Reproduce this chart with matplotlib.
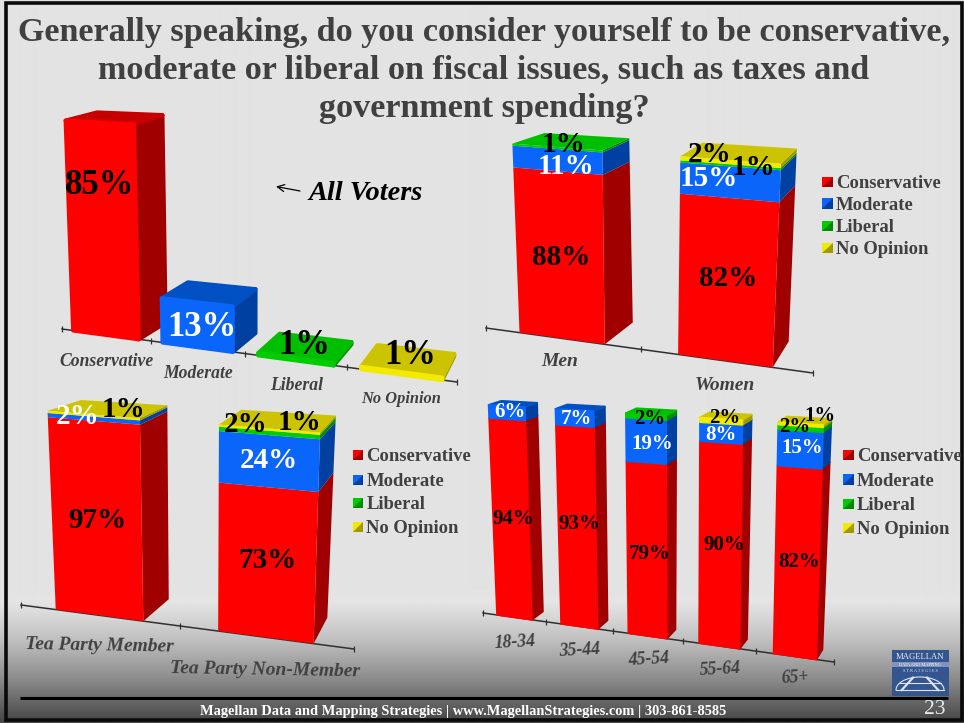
import numpy as np
import matplotlib
matplotlib.use("Agg")
import matplotlib.pyplot as plt
from matplotlib.patches import Polygon, Rectangle
from matplotlib.transforms import Transform, IdentityTransform

W, H = 964, 723
SERIF = "Liberation Serif"
GREY = "#404040"

# ---------- data ----------
SERIES = ["Conservative", "Moderate", "Liberal", "No Opinion"]

ALL_CATS = ["Conservative", "Moderate", "Liberal", "No Opinion"]
ALL_VALUES = [85, 13, 1, 1]

SEX_CATS = ["Men", "Women"]
SEX_CONS = [88, 82]
SEX_MOD = [11, 15]
SEX_LIB = [1, 1]
SEX_NO = [0, 2]

TEA_CATS = ["Tea Party Member", "Tea Party Non-Member"]
TEA_CONS = [97, 73]
TEA_MOD = [2, 24]
TEA_LIB = [0, 2]
TEA_NO = [1, 1]

AGE_CATS = ["18-34", "35-44", "45-54", "55-64", "65+"]
AGE_CONS = [94, 93, 79, 90, 82]
AGE_MOD = [6, 7, 19, 8, 15]
AGE_LIB = [0, 0, 2, 0, 2]
AGE_NO = [0, 0, 0, 2, 1]

TITLE_LINES = ["Generally speaking, do you consider yourself to be conservative,",
               "moderate or liberal on fiscal issues, such as taxes and",
               "government spending?"]
FOOTER = "Magellan Data and Mapping Strategies | www.MagellanStrategies.com | 303-861-8585"

# ---------- styles ----------
FRONT = ["#FF0000", "#0A66FA", "#00CC00", "#F2EA00"]
SIDE = ["#A00000", "#0040A0", "#008C00", "#A09A00"]
TOP = ["#C60000", "#0050C4", "#00BE00", "#CCC400"]
TEXTC = ["black", "white", "black", "black"]


class Homography(Transform):
    input_dims = output_dims = 2
    is_separable = False
    has_inverse = False
    is_affine = False

    def __init__(self, src, dst):
        super().__init__()
        A, b = [], []
        for (x, y), (u, v) in zip(src, dst):
            A.append([x, y, 1, 0, 0, 0, -u * x, -u * y]); b.append(u)
            A.append([0, 0, 0, x, y, 1, -v * x, -v * y]); b.append(v)
        self.M = np.append(np.linalg.solve(np.array(A, float), np.array(b, float)), 1).reshape(3, 3)

    def transform_non_affine(self, values):
        v = np.asarray(values, float)
        p = np.c_[v, np.ones(len(v))] @ self.M.T
        return p[:, :2] / p[:, 2:3]


fig = plt.figure(figsize=(W / 100, H / 100), dpi=100, facecolor="white")

# ---------- slide background ----------
bg = fig.add_axes([0, 0, 1, 1], zorder=0)
bg.set_xlim(0, W); bg.set_ylim(H, 0); bg.set_axis_off()
rows = np.arange(H)
grey = np.interp(rows, [0, 590, 602, 640, 680, 700, 720], [227, 227, 229, 192, 138, 105, 72])
bg.imshow(grey[:, None], cmap="gray", vmin=0, vmax=255, extent=(0, W, H, 0), aspect="auto",
          interpolation="bilinear")
bg.set_xlim(0, W); bg.set_ylim(H, 0)
bg.add_patch(Rectangle((5.5, 3), 956, 717, fill=False, ec="#0a0a0a", lw=2.6))
bg.plot([20, 948], [698, 698], color="black", lw=2.2, solid_capstyle="butt")

for line, y in zip(TITLE_LINES, [33, 70, 109]):
    bg.text(484, y, line, ha="center", va="center", family=SERIF, weight="bold",
            fontsize=24.6, color=GREY)
bg.text(463.5, 711, FOOTER, ha="center", va="center", family=SERIF, weight="bold",
        fontsize=10.4, color="white")
bg.text(935, 709, "23", ha="center", va="center", family=SERIF, fontsize=15.5, color="#e8e8e8")

# logo
bg.add_patch(Rectangle((892, 650), 57, 46, fc="#34558F", ec="none"))
bg.add_patch(Rectangle((892, 662), 57, 5, fc="#7F93BC", ec="none"))
bg.text(920, 657, "MAGELLAN", ha="center", va="center", family=SERIF, fontsize=6.2, color="#e8ecf4")
bg.text(920, 664.5, "DATA AND MAPPING", ha="center", va="center", family=SERIF, fontsize=3.2, color="white")
bg.text(920, 670.5, "S T R A T E G I E S", ha="center", va="center", family=SERIF, fontsize=3.2, color="#dfe5f0")
t = np.linspace(0, np.pi, 30)
bg.plot(920 + 24 * np.cos(t), 690 - 13 * np.sin(t), color="#dfe5f0", lw=0.8)
bg.plot([896, 944], [690, 690], color="#dfe5f0", lw=0.8)
for dx, top in [(-7, 0.95), (7, 0.95)]:
    bg.plot([920 + dx, 920 + dx * 2.6], [690 - 13 * top, 690], color="#dfe5f0", lw=1.6)
bg.plot([899, 941], [683, 683], color="#dfe5f0", lw=0.8)


def px(p):
    return [(x, H - y) for x, y in p]


def make_panel(n, vmax, front_quad, depth, scale=None, lw=0.0, width=0.55):
    """front_quad: BL, BR, TR, TL in slide pixels for the value plane;
    depth: the same four corners' offset to the back plane."""
    xs = [q[0] for q in front_quad]
    ys = [q[1] for q in front_quad]
    l, r, t_, b = min(xs), max(xs), min(ys), max(ys)
    ax = fig.add_axes([l / W, 1 - b / H, (r - l) / W, (b - t_) / H], zorder=2)
    ax.set_axis_off()
    if scale is not None:
        ax.set_yscale("function", functions=scale)
    ax.set_xlim(0, n); ax.set_ylim(0, vmax)
    x0, y0, x1, y1 = l, H - b, r, H - t_
    src = [(x0, y0), (x1, y0), (x1, y1), (x0, y1)]
    back_quad = [(q[0] + d[0], q[1] + d[1]) for q, d in zip(front_quad, depth)]
    tf = ax.transData + Homography(src, px(front_quad))
    tb = ax.transData + Homography(src, px(back_quad))
    ident = IdentityTransform()

    def draw(ix, v0, v1, color_i, is_top, z):
        a, c = ix + 0.5 - width / 2, ix + 0.5 + width / 2
        fr = tf.transform([[a, v1], [c, v1], [c, v0]])
        bk = tb.transform([[a, v1], [c, v1], [c, v0]])
        common = dict(closed=True, transform=ident, clip_on=False, joinstyle="round", lw=lw)
        ax.add_patch(Polygon([fr[1], bk[1], bk[2], fr[2]], fc=SIDE[color_i], ec=SIDE[color_i], zorder=z, **common))
        if is_top:
            ax.add_patch(Polygon([fr[0], bk[0], bk[1], fr[1]], fc=TOP[color_i], ec=TOP[color_i], zorder=z, **common))
        ax.bar(ix + 0.5, v1 - v0, width, bottom=v0, color=FRONT[color_i], edgecolor=FRONT[color_i],
               linewidth=lw, joinstyle="round", transform=tf, clip_on=False, zorder=z + 0.5)

    ax.plot([0, n], [0, 0], color="#303030", lw=1.1, transform=tf, clip_on=False, zorder=1)
    ax.plot(np.arange(n + 1), np.zeros(n + 1), ls="none", marker="|", ms=5, mew=0.9,
            color="#303030", transform=tf, clip_on=False, zorder=1)
    ax.set_xlim(0, n); ax.set_ylim(0, vmax)
    return ax, draw


def stacked(n, vmax, quad, depth, stacks, width=0.55, lw=0.0):
    ax, draw = make_panel(n, vmax, quad, depth, width=width, lw=lw)
    for i in range(n):
        vals = [s[i] for s in stacks]
        last = max(k for k, v in enumerate(vals) if v > 0)
        base = 0
        z = 3 + i * 2
        for k, v in enumerate(vals):
            if v > 0:
                draw(i, base, base + v, k, k == last, z)
                base += v
    return ax


# ---------- panel 1: all voters ----------
knots_v = [0, 1, 13, 85]
knots_s = [0, 0.9, 18, 85]
ax1, draw1 = make_panel(
    4, 85,
    [(62, 329), (457, 382), (468, 142), (54, 120)],
    [(30, -15), (11, -24), (10, -14), (32, -8)],
    scale=(lambda v: np.interp(v, knots_v, knots_s), lambda s: np.interp(s, knots_s, knots_v)),
    lw=3.0, width=0.74)
for i, v in enumerate(ALL_VALUES):
    draw1(i, 0, v, i, True, 3 + i * 2)

# ---------- panels 2-4 ----------
stacked(2, 100, [(486, 328), (813, 373), (824, 167), (477, 141)],
        [(36, -19), (13, -27), (13, -16), (34, -10)],
        [SEX_CONS, SEX_MOD, SEX_LIB, SEX_NO])
stacked(2, 100, [(21, 605), (354, 649), (363, 436), (11, 408)],
        [(34, -19), (11, -27), (13, -18), (36, -10)],
        [TEA_CONS, TEA_MOD, TEA_LIB, TEA_NO])
stacked(5, 100, [(483, 613), (834, 662), (842, 426), (474, 404)],
        [(12, -8), (6, -10), (8, -6), (13, -4)],
        [AGE_CONS, AGE_MOD, AGE_LIB, AGE_NO], lw=1.2)

# ---------- data labels (on top of every bar) ----------
lab = fig.add_axes([0, 0, 1, 1], zorder=5)
lab.set_xlim(0, W); lab.set_ylim(H, 0); lab.set_axis_off()


def value_labels(stacks, layouts, size, nudge):
    for i, where in enumerate(layouts):
        vals = [s[i] for s in stacks]
        nz = [(k, v) for k, v in enumerate(vals) if v > 0]
        for (k, v), (x, y) in zip(nz, where):
            lab.text(x, y + nudge, f"{v}%", ha="center", va="center", family=SERIF, weight="bold",
                     fontsize=size, color=TEXTC[k])


for i, (v, (x, y)) in enumerate(zip(ALL_VALUES, [(100, 185), (202, 328), (304, 345), (410, 355)])):
    lab.text(x, y, f"{v}%", ha="center", va="center", family=SERIF, weight="bold", fontsize=25,
             color="white" if i == 1 else "black")

value_labels([SEX_CONS, SEX_MOD, SEX_LIB, SEX_NO],
             [[(561, 255), (566, 164), (564, 142)],
              [(728, 276), (709, 176), (754, 165), (710, 152)]], 21, 2.5)
value_labels([TEA_CONS, TEA_MOD, TEA_LIB, TEA_NO],
             [[(97, 518), (78, 414), (124, 407)],
              [(267, 558), (269, 458), (246, 422), (300, 420)]], 21, 2.5)
value_labels([AGE_CONS, AGE_MOD, AGE_LIB, AGE_NO],
             [[(513, 517), (510, 410)],
              [(579, 522), (576, 417)],
              [(650, 552), (652, 442), (650, 417)],
              [(724, 543), (721, 433), (725, 416)],
              [(799, 560), (802, 446), (795, 425), (820, 414)]], 15, 2)

# ---------- category labels ----------
def cat_labels(cats, where, size, rot=0):
    for c, (x, y) in zip(cats, where):
        lab.text(x, y + 1, c, ha="center", va="center", family=SERIF, weight="bold", style="italic",
                 fontsize=size, color=GREY, rotation=rot)


cat_labels(ALL_CATS[:3], [(107, 360), (198, 372), (297, 384)], 12.7)
cat_labels(ALL_CATS[3:], [(401, 398)], 11.8)
cat_labels(SEX_CATS, [(560, 361), (725, 384)], 14)
cat_labels(TEA_CATS, [(99, 645), (265, 669)], 14, rot=-1)
cat_labels(AGE_CATS, [(515, 641), (580, 649), (649, 658), (720, 668), (795, 677)], 12.7, rot=3)

lab.text(366, 194, "All Voters", ha="center", va="center", family=SERIF, weight="bold",
         style="italic", fontsize=20.4, color="black")
lab.annotate("", xy=(276, 186.5), xytext=(300, 191),
             arrowprops=dict(arrowstyle="->,head_length=0.5,head_width=0.25", color="black", lw=0.9,
                             shrinkA=0, shrinkB=0))


# ---------- legends ----------
def legend(x, ys, size, box):
    for i, (name, y) in enumerate(zip(SERIES, ys)):
        lab.add_patch(Rectangle((x, y - box / 2), box, box, fc=FRONT[i], ec="none"))
        lab.add_patch(Polygon([(x + box, y - box / 2), (x + box, y + box / 2), (x, y + box / 2)],
                              closed=True, fc=SIDE[i], ec="none"))
        lab.text(x + box + 3.5, y + 1.5, name, ha="left", va="center", family=SERIF, weight="bold",
                 fontsize=size, color=GREY)


legend(822, [182, 203.5, 226, 248], 13.4, 10.5)
legend(353, [455, 479.5, 503, 527], 13.4, 10)
legend(843, [455, 479.5, 504, 528], 13.4, 10.5)

fig.savefig("out.png", dpi=100, facecolor="white")
